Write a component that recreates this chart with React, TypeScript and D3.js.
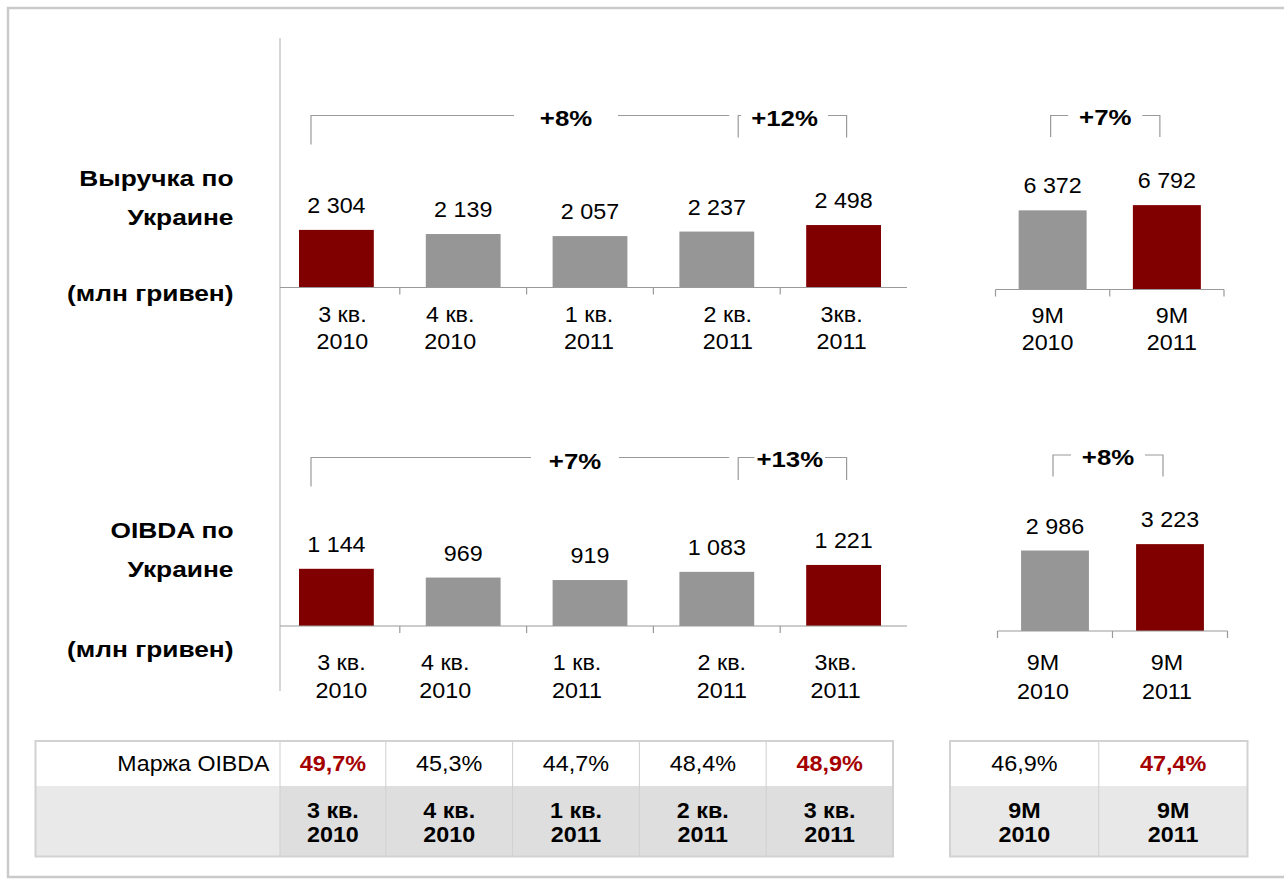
import { useEffect, useRef } from "react"
import * as d3 from "d3"

// quarterly categories (chart labels and table labels differ slightly, as on the slide)
const quarterTop = ["3 кв.", "4 кв.", "1 кв.", "2 кв.", "3кв."]
const quarterYear = ["2010", "2010", "2011", "2011", "2011"]
const tableQuarterTop = ["3 кв.", "4 кв.", "1 кв.", "2 кв.", "3 кв."]
const ytdTop = ["9M", "9M"]
const ytdYear = ["2010", "2011"]

// values, mln UAH
const revenueQ = [2304, 2139, 2057, 2237, 2498]
const oibdaQ = [1144, 969, 919, 1083, 1221]
const revenue9m = [6372, 6792]
const oibda9m = [2986, 3223]

const highlightQ = [true, false, false, false, true]
const highlight9m = [false, true]

const marginQ = ["49,7%", "45,3%", "44,7%", "48,4%", "48,9%"]
const margin9m = ["46,9%", "47,4%"]

const revenueGrowth = ["+8%", "+12%"]
const oibdaGrowth = ["+7%", "+13%"]
const revenue9mGrowth = "+7%"
const oibda9mGrowth = "+8%"

const RED = "#800000"
const GREY = "#969696"
const TEXT_RED = "#a50000"
const LINE = "#9a9a9a"
const FONT = "'Liberation Sans', Arial, sans-serif"

const fmt = d3.formatLocale({ decimal: ",", thousands: " ", grouping: [3], currency: ["", ""] }).format(",d")

type G = d3.Selection<SVGGElement, unknown, null, undefined>

function txt(g: G, x: number, y: number, s: string, o: { size: number; bold?: boolean; anchor?: string; sx?: number; fill?: string }) {
  g.append("text")
    .attr("transform", `translate(${x},${y}) scale(${o.sx ?? 1},1)`)
    .attr("text-anchor", o.anchor ?? "middle")
    .attr("font-size", o.size)
    .attr("font-weight", o.bold ? "bold" : "normal")
    .attr("fill", o.fill ?? "#000")
    .text(s)
}

interface PanelOpts {
  values: number[]
  highlight: boolean[]
  line1: string[]
  line2: string[]
  range: [number, number]
  pad: number
  baseY: number
  yMax: number // value drawn at 100px height
  axisFrom: number
  edgeTicks: boolean
  nudge: number[]
  lab1: number
  lab2: number
}

function panel(g: G, o: PanelOpts) {
  const idx = o.values.map((_, i) => i)
  const x = d3.scaleBand<number>().domain(idx).range(o.range).paddingInner(o.pad).paddingOuter(o.pad / 2)
  const y = d3.scaleLinear().domain([0, o.yMax]).range([o.baseY, o.baseY - 100])
  const bw = x.bandwidth()
  const step = x.step()

  g.selectAll(null)
    .data(o.values)
    .enter()
    .append("rect")
    .attr("x", (_, i) => x(i)!)
    .attr("y", (d) => y(d))
    .attr("width", bw)
    .attr("height", (d) => o.baseY - y(d))
    .attr("fill", (_, i) => (o.highlight[i] ? RED : GREY))

  // axis
  g.append("line")
    .attr("x1", o.axisFrom).attr("x2", o.range[1])
    .attr("y1", o.baseY).attr("y2", o.baseY)
    .attr("stroke", LINE).attr("stroke-width", 1.2)
  const bounds = d3.range(o.values.length + 1).map((k) => o.range[0] + k * step)
  const tks = o.edgeTicks ? bounds : bounds.slice(1, -1)
  tks.forEach((bx) => {
    g.append("line")
      .attr("x1", bx).attr("x2", bx)
      .attr("y1", o.baseY).attr("y2", o.baseY + 7)
      .attr("stroke", LINE).attr("stroke-width", 1.2)
  })

  o.values.forEach((v, i) => {
    const cx = x(i)! + bw / 2
    txt(g, cx, y(v) - 17, fmt(v), { size: 22, sx: 1.06 })
    txt(g, cx + o.nudge[i], o.lab1, o.line1[i], { size: 22, sx: 1.06 })
    txt(g, cx + o.nudge[i], o.lab2, o.line2[i], { size: 22, sx: 1.06 })
  })
  return { x, bw }
}

function bracket(g: G, a: number, b: number | null, yTop: number, yBot: number, gap: [number, number], end: number) {
  const p = d3.path()
  p.moveTo(a, yBot)
  p.lineTo(a, yTop)
  p.lineTo(gap[0], yTop)
  p.moveTo(gap[1], yTop)
  p.lineTo(end, yTop)
  if (b !== null) p.lineTo(b, yBot)
  g.append("path").attr("d", p.toString()).attr("fill", "none").attr("stroke", LINE).attr("stroke-width", 1.2)
}

export default function App() {
  const svgRef = useRef<SVGSVGElement>(null)

  useEffect(() => {
    if (!svgRef.current) return
    const svg = d3.select(svgRef.current)
    svg.selectAll("*").remove()
    const g = svg.append("g") as G

    // frame
    g.append("rect").attr("x", 8).attr("y", 8).attr("width", 1290).attr("height", 869)
      .attr("fill", "#fff").attr("stroke", "#cacaca").attr("stroke-width", 2.5)
    g.append("line").attr("x1", 280).attr("x2", 280).attr("y1", 38).attr("y2", 691)
      .attr("stroke", "#c8c8c8").attr("stroke-width", 1.5)

    // row titles
    const title = (lines: string[], ys: number[]) =>
      lines.forEach((s, i) => txt(g, 233.5, ys[i], s, { size: 22.5, bold: true, anchor: "end", sx: 1.17 }))
    title(["Выручка по", "Украине", "(млн гривен)"], [186, 224.5, 300.5])
    title(["OIBDA по", "Украине", "(млн гривен)"], [538, 577, 656.5])

    // quarterly panels
    const tl = panel(g, {
      values: revenueQ, highlight: highlightQ, line1: quarterTop, line2: quarterYear,
      range: [273, 907], pad: 0.41, baseY: 287.5, yMax: 4000, axisFrom: 280, edgeTicks: false,
      nudge: [6, -13, -1, 11, -2], lab1: 321.5, lab2: 348.5,
    })
    const bl = panel(g, {
      values: oibdaQ, highlight: highlightQ, line1: quarterTop, line2: quarterYear,
      range: [273, 907], pad: 0.41, baseY: 626, yMax: 2000, axisFrom: 280, edgeTicks: false,
      nudge: [5, -18, -13, 5, -8], lab1: 669.5, lab2: 698,
    })
    const tr = panel(g, {
      values: revenue9m, highlight: highlight9m, line1: ytdTop, line2: ytdYear,
      range: [995.5, 1224], pad: 0.405, baseY: 289.5, yMax: 8050, axisFrom: 995.5, edgeTicks: true,
      nudge: [-5, 5], lab1: 322.5, lab2: 350,
    })
    const br = panel(g, {
      values: oibda9m, highlight: highlight9m, line1: ytdTop, line2: ytdYear,
      range: [997.5, 1227.5], pad: 0.41, baseY: 631, yMax: 3710, axisFrom: 997.5, edgeTicks: true,
      nudge: [-12, -3], lab1: 669.5, lab2: 698.5,
    })

    // growth brackets, quarterly
    const growth = (p: { x: d3.ScaleBand<number>; bw: number }, yTop: number, labels: string[], big: number[], small: number[]) => {
      const l0 = p.x(0)! + 12
      const s0 = p.x(3)! + p.bw - 16
      const s1 = p.x(4)! + p.bw / 2 + 3
      bracket(g, l0, null, yTop, yTop + big[0], [big[1], big[2]], s0 - 9)
      bracket(g, s0, s1, yTop, yTop + small[0], [small[1], small[2]], s1)
      txt(g, (big[1] + big[2]) / 2, yTop + big[3], labels[0], { size: 21.5, bold: true, sx: 1.2 })
      txt(g, (small[1] + small[2]) / 2, yTop + small[3], labels[1], { size: 21.5, bold: true, sx: 1.2 })
    }
    growth(tl, 115.5, revenueGrowth, [29, 514, 618, 10.5], [22, 741, 828, 10])
    growth(bl, 457.5, oibdaGrowth, [29, 531, 619, 11.5], [22.5, 754.5, 825, 9.5])

    // growth brackets, 9M
    const growth9 = (p: { x: d3.ScaleBand<number>; bw: number }, yTop: number, label: string, gapW: number) => {
      const c0 = p.x(0)! + p.bw / 2 - 2
      const c1 = p.x(1)! + p.bw / 2 - 7
      const mid = (c0 + c1) / 2
      bracket(g, c0, c1, yTop, yTop + 21.5, [mid - gapW, mid + gapW], c1)
      txt(g, mid, yTop + 9.5, label, { size: 21.5, bold: true, sx: 1.2 })
    }
    growth9(tr, 115.5, revenue9mGrowth, 37)
    growth9(br, 455, oibda9mGrowth, 37)

    // margin table, quarters
    const top = 741, mid = 786, bot = 856.5
    const tx = d3.scaleBand<number>().domain(d3.range(5)).range([259, 893])
    const t9 = d3.scaleBand<number>().domain(d3.range(2)).range([950, 1247.5])
    const cellLine = "#cfcfcf"

    g.append("rect").attr("x", 35.5).attr("y", mid).attr("width", 280 - 35.5).attr("height", bot - mid).attr("fill", "#e9e9e9")
    marginQ.forEach((m, i) => {
      const x0 = Math.max(280, tx(i)!)
      const x1 = tx(i)! + tx.bandwidth()
      const cx = (x0 + x1) / 2
      g.append("rect").attr("x", x0).attr("y", mid).attr("width", x1 - x0).attr("height", bot - mid).attr("fill", "#dedede")
      g.append("line").attr("x1", x0).attr("x2", x0).attr("y1", top).attr("y2", bot).attr("stroke", cellLine).attr("stroke-width", 1)
      txt(g, cx, 770.5, m, { size: 22.5, bold: highlightQ[i], sx: 1.04, fill: highlightQ[i] ? TEXT_RED : "#000" })
      txt(g, cx, 817.5, tableQuarterTop[i], { size: 22, bold: true, sx: 1.06 })
      txt(g, cx, 841.5, quarterYear[i], { size: 22, bold: true, sx: 1.06 })
    })
    g.append("rect").attr("x", 35.5).attr("y", top).attr("width", 893 - 35.5).attr("height", bot - top)
      .attr("fill", "none").attr("stroke", "#d2d2d2").attr("stroke-width", 2)
    txt(g, 269.5, 770.5, "Маржа OIBDA", { size: 22.5, anchor: "end", sx: 1.03 })

    // margin table, 9M
    margin9m.forEach((m, i) => {
      const x0 = t9(i)!
      const cx = x0 + t9.bandwidth() / 2
      g.append("rect").attr("x", x0).attr("y", mid).attr("width", t9.bandwidth()).attr("height", bot - mid).attr("fill", "#e8e8e8")
      if (i > 0) g.append("line").attr("x1", x0).attr("x2", x0).attr("y1", top).attr("y2", bot).attr("stroke", cellLine).attr("stroke-width", 1)
      txt(g, cx, 770.5, m, { size: 22.5, bold: highlight9m[i], sx: 1.04, fill: highlight9m[i] ? TEXT_RED : "#000" })
      txt(g, cx, 817.5, ytdTop[i], { size: 22, bold: true, sx: 1.06 })
      txt(g, cx, 841.5, ytdYear[i], { size: 22, bold: true, sx: 1.06 })
    })
    g.append("rect").attr("x", 950).attr("y", top).attr("width", 1247.5 - 950).attr("height", bot - top)
      .attr("fill", "none").attr("stroke", "#d2d2d2").attr("stroke-width", 2)
  }, [])

  return (
    <svg
      ref={svgRef}
      width={1284}
      height={879}
      style={{ position: "absolute", left: 0, top: 0, display: "block", fontFamily: FONT }}
    />
  )
}
